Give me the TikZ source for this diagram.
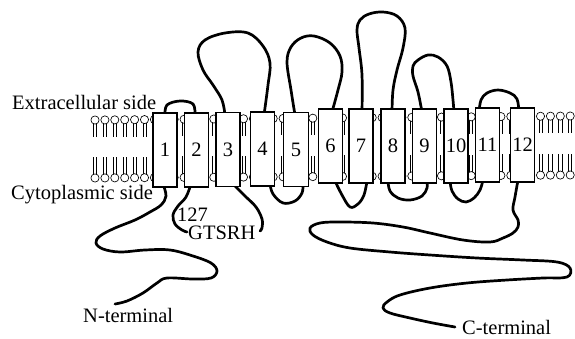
\documentclass[tikz,border=0pt]{standalone}
\usepackage{fontspec}
\setmainfont{Liberation Serif}
\begin{document}
\begin{tikzpicture}[x=1pt,y=-1pt,
  tmbox/.style={draw, line width=1.2pt, fill=white, minimum width=24pt, minimum height=74pt, inner sep=0pt, font=\fontsize{20.5}{24}\selectfont},
  strand/.style={line width=2.7pt, line cap=round, line join=round},
  lbl/.style={anchor=base west, inner sep=0pt, font=\fontsize{20.5}{24}\selectfont},
  lipid/.style={line width=0.65pt}]
\useasboundingbox (0,0) rectangle (575,338);
% lipid bilayer
\foreach \k in {0,...,48}{
  \pgfmathsetmacro\xx{95+9.9*\k}
  \pgfmathsetmacro\yt{120-4*(\xx-95)/475}
  \pgfmathsetmacro\yb{178-3*(\xx-95)/475}
  \draw[lipid] (\xx-1.6,\yt) -- (\xx-1.6,\yt+17) (\xx+1.6,\yt) -- (\xx+1.6,\yt+17);
  \draw[lipid] (\xx-1.6,\yb) -- (\xx-1.6,\yb-21) (\xx+1.6,\yb) -- (\xx+1.6,\yb-21);
  \draw[lipid, fill=white] (\xx,\yt) circle[radius=4.1];
  \draw[lipid, fill=white] (\xx,\yb) circle[radius=4.1];
}
% extracellular loops
\draw[strand] plot[smooth, tension=0.6] coordinates {(165,115) (167,105) (180,101) (193,104) (195,115)};
\draw[strand] plot[smooth, tension=0.6] coordinates {(225,115) (222,100) (213,85) (203,70) (198,52) (205,40) (225,33) (248,33) (263,46) (270,63) (268,85) (264,115)};
\draw[strand] plot[smooth, tension=0.6] coordinates {(295,115) (291,90) (287,62) (291,47) (301,38) (314,36) (330,43) (340,56) (342,72) (338,90) (332,112)};
\draw[strand] plot[smooth, tension=0.6] coordinates {(362,112) (362,75) (359,48) (357,30) (360,20) (369,14) (383,12) (397,16) (405,28) (403,48) (397,70) (393,90) (392,112)};
\draw[strand] plot[smooth, tension=0.6] coordinates {(422,112) (418,92) (413,76) (413,66) (418,60) (428,55) (438,57) (447,66) (451,82) (453,100) (454,112)};
\draw[strand] plot[smooth, tension=0.6] coordinates {(479,112) (481,100) (487,93) (498,90) (510,93) (517,99) (519,112)};
% cytoplasmic parts
\draw[strand] plot[smooth, tension=0.6] coordinates {(163,184) (166,196) (161,205) (150,212) (135,220) (115,228) (100,236) (96,243) (103,249) (120,252) (145,250) (170,250) (193,256) (211,263) (217,271) (211,278) (193,279) (167,278) (157,283) (143,293) (127,301) (115,304)};
\draw[strand] plot[smooth, tension=0.6] coordinates {(191,184) (186,197) (178,206) (173,215) (175,224) (182,230) (187,232)};
\draw[strand] plot[smooth, tension=0.6] coordinates {(233,184) (245,196) (256,207) (262,219) (262,228) (260,231)};
\draw[strand] plot[smooth, tension=0.6] coordinates {(270,184) (273,194) (283,203) (295,201) (302,193) (303,184)};
\draw[strand] plot[smooth, tension=0.6] coordinates {(335,181) (342,195) (350,207) (358,204) (364,195) (367,181)};
\draw[strand] plot[smooth, tension=0.6] coordinates {(388,181) (390,191) (398,198) (410,200) (422,196) (427,188) (427,181)};
\draw[strand] plot[smooth, tension=0.6] coordinates {(450,181) (452,191) (458,199) (466,202) (474,198) (480,190) (483,180)};
\draw[strand] plot[smooth, tension=0.6] coordinates {(518,180) (515,197) (513,210) (518,220) (518,227) (513,233) (503,238) (490,242) (463,240) (430,233) (403,227) (373,223) (340,222) (320,223) (310,228) (313,235) (327,242) (350,248) (390,252) (430,255) (477,258) (523,260) (557,262) (570,268) (567,277) (543,278) (507,280) (467,283) (430,288) (400,295) (387,302) (383,308) (390,313) (410,318) (433,323) (455,327)};
% transmembrane helices
\node[tmbox] (b1) at (165,150) {1};
\node[tmbox] (b2) at (196.5,150) {2};
\node[tmbox] (b3) at (228,149.5) {3};
\node[tmbox] (b4) at (262.5,149) {4};
\node[tmbox, minimum width=25pt] (b5) at (296,149.5) {5};
\node[tmbox] (b6) at (330.5,146) {6};
\node[tmbox] (b7) at (361,146) {7};
\node[tmbox] (b8) at (393,146) {8};
\node[tmbox] (b9) at (424.5,146) {9};
\node[tmbox] (b10) at (456,146) {10};
\node[tmbox] (b11) at (487.5,145) {11};
\node[tmbox] (b12) at (522.5,145) {12};
% labels
\node[lbl] (ext) at (12,109) {Extracellular side};
\node[lbl] (cyt) at (11,199) {Cytoplasmic side};
\node[lbl] (n127) at (177,221) {127};
\node[lbl] (gts) at (188,239) {GTSRH};
\node[lbl] (nterm) at (83,322) {N-terminal};
\node[lbl] (cterm) at (462,334) {C-terminal};
\end{tikzpicture}
\end{document}
